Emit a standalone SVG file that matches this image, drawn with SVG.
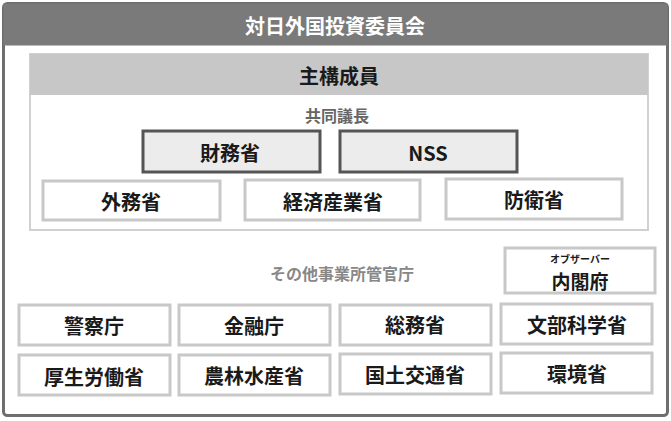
<svg xmlns="http://www.w3.org/2000/svg" width="671" height="421" viewBox="0 0 671 421">
<style>
text{font-family:"Noto Sans CJK JP","Noto Sans",sans-serif;font-weight:bold;text-anchor:middle;dominant-baseline:central}
.b{fill:#fff;stroke:#c8c8c8;stroke-width:3}
.c{fill:#ececec;stroke:#555;stroke-width:3}
.t{font-size:20px;fill:#1a1a1a}
</style>
<g id="outer">
<rect x="3.5" y="3.5" width="664" height="412" rx="4" fill="#fff" stroke="#6e6e6e" stroke-width="3"/>
<rect x="3.5" y="3.5" width="664" height="42" fill="#7a7a7a"/>
<text x="335" y="25" font-size="20" fill="#fff">対日外国投資委員会</text>
</g>
<g id="main">
<rect x="30" y="54" width="618" height="176" fill="#fff" stroke="#d0d0d0" stroke-width="2"/>
<rect x="30" y="54" width="618" height="41" fill="#c6c7c6"/>
<text x="339" y="75" class="t">主構成員</text>
<text x="337" y="115" font-size="16" fill="#666">共同議長</text>
</g>
<g id="zaimu"><rect x="143" y="131" width="177" height="41" class="c"/><text x="230" y="152" class="t">財務省</text></g>
<g id="nss"><rect x="340" y="131" width="177" height="41" class="c"/><text x="428" y="152" class="t">NSS</text></g>
<g id="gaimu"><rect x="43" y="181" width="177" height="39" class="b"/><text x="131" y="201" class="t">外務省</text></g>
<g id="keisan"><rect x="245" y="180" width="175" height="40" class="b"/><text x="333" y="201" class="t">経済産業省</text></g>
<g id="boei"><rect x="446" y="179" width="176" height="40" class="b"/><text x="534" y="199" class="t">防衛省</text></g>
<text x="342" y="273" font-size="16" fill="#888">その他事業所管官庁</text>
<g id="naikaku"><rect x="505" y="248" width="150" height="45" class="b"/><text x="580" y="258" font-size="10" fill="#1a1a1a">オブザーバー</text><text x="580" y="280" font-size="19" fill="#1a1a1a">内閣府</text></g>
<g id="keisatsu"><rect x="19" y="305" width="151" height="40" class="b"/><text x="94" y="325" class="t">警察庁</text></g>
<g id="kinyu"><rect x="179" y="305" width="151" height="40" class="b"/><text x="254" y="325" class="t">金融庁</text></g>
<g id="somu"><rect x="340" y="305" width="151" height="40" class="b"/><text x="415" y="324" class="t">総務省</text></g>
<g id="monka"><rect x="501" y="304" width="151" height="40" class="b"/><text x="577" y="324" class="t">文部科学省</text></g>
<g id="kosei"><rect x="19" y="355" width="151" height="40" class="b"/><text x="94" y="376" class="t">厚生労働省</text></g>
<g id="norin"><rect x="179" y="355" width="151" height="40" class="b"/><text x="254" y="375" class="t">農林水産省</text></g>
<g id="kokudo"><rect x="340" y="354" width="151" height="40" class="b"/><text x="415" y="374" class="t">国土交通省</text></g>
<g id="kankyo"><rect x="501" y="353" width="151" height="40" class="b"/><text x="577" y="373" class="t">環境省</text></g>
<g id="connectors"/>
</svg>
